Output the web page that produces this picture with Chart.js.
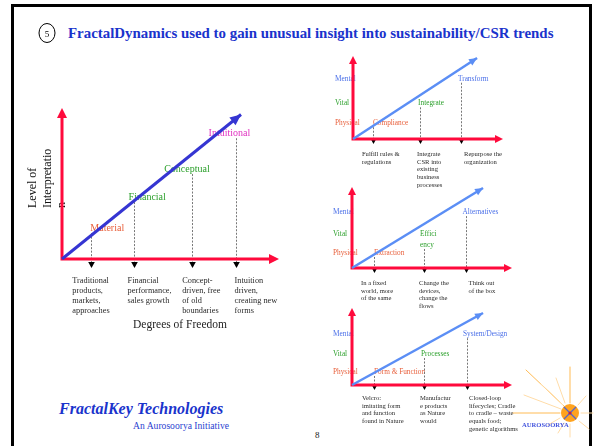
<!DOCTYPE html>
<html>
<head>
<meta charset="utf-8">
<script src="https://cdn.jsdelivr.net/npm/chart.js@4.4.0/dist/chart.umd.min.js"></script>
<style>
html,body{margin:0;padding:0;background:#fff;width:602px;height:446px;overflow:hidden;font-family:"Liberation Serif","Times New Roman",serif;}
#frame{position:absolute;left:11px;top:4px;width:581px;height:480px;border:3px solid #000;box-sizing:border-box;}
.box{position:absolute;}
.box canvas{display:block;}
#title{position:absolute;left:68px;top:24px;font-weight:bold;font-size:14.9px;color:#1a33cc;white-space:nowrap;line-height:18px;}
#brand{position:absolute;left:59px;top:399px;font-weight:bold;font-style:italic;font-size:16px;color:#1a33cc;white-space:nowrap;line-height:20px;}
#initiative{position:absolute;right:373px;top:420px;font-size:9.6px;color:#2a3fd0;white-space:nowrap;line-height:12px;}
#page{position:absolute;left:315px;top:430px;font-size:9px;color:#222;line-height:11px;}
#deco{position:absolute;left:0;top:0;pointer-events:none;}
</style>
</head>
<body>
<div id="frame"></div>
<div id="title">FractalDynamics used to gain unusual insight into sustainability/CSR trends</div>

<div class="box" style="left:14px;top:60px;"><canvas id="cMain" width="300" height="290"></canvas></div>
<div class="box" style="left:320px;top:45px;"><canvas id="cCsr" width="210" height="150"></canvas></div>
<div class="box" style="left:320px;top:180px;"><canvas id="cEco" width="210" height="135"></canvas></div>
<div class="box" style="left:320px;top:300px;"><canvas id="cBio" width="210" height="146"></canvas></div>

<div id="brand">FractalKey Technologies</div>
<div id="initiative">An Aurosoorya Initiative</div>
<div id="page">8</div>

<svg id="deco" width="602" height="446" xmlns="http://www.w3.org/2000/svg">
  <ellipse cx="47" cy="33" rx="8" ry="9.5" fill="none" stroke="#000" stroke-width="1"/>
  <text x="47" y="36.5" font-family="Liberation Serif" font-size="9" text-anchor="middle" fill="#000">5</text>
  <g stroke="#ffbb55" stroke-width="1" stroke-linecap="round">
    <line x1="526" y1="370" x2="564" y2="406"/>
    <line x1="570" y1="367" x2="570" y2="403"/>
    <line x1="513" y1="413" x2="560" y2="413"/>
  </g>
  <g stroke="#ffdca8" stroke-width="1" stroke-linecap="round">
    <line x1="524" y1="395" x2="561" y2="409"/>
    <line x1="541" y1="384" x2="563" y2="405"/>
    <line x1="556" y1="378" x2="565" y2="403"/>
    <line x1="586" y1="396" x2="578" y2="405"/>
    <line x1="593" y1="413" x2="581" y2="413"/>
    <line x1="589" y1="429" x2="579" y2="421"/>
    <line x1="570" y1="437" x2="570" y2="424"/>
    <line x1="558" y1="433" x2="564" y2="423"/>
    <line x1="548" y1="425" x2="560" y2="418"/>
  </g>
  <circle cx="570" cy="413" r="9" fill="#ffa31f"/>
  <g stroke="#5566cc" stroke-width="1.3">
    <line x1="564" y1="407" x2="576" y2="419"/>
    <line x1="576" y1="407" x2="564" y2="419"/>
  </g>
  <circle cx="570" cy="413" r="1.6" fill="#c0204a"/>
  <text x="522" y="426.5" font-family="Liberation Serif" font-size="6.6" font-weight="bold" fill="#4455dd">AUROSOORYA</text>
</svg>

<script>
// ---------------- DATA ----------------
// Main chart: Level of Interpretation vs Degrees of Freedom
const mainStages = ['Material', 'Financial', 'Conceptual', 'Intuitional'];
const mainFreedom = [1.35, 3.3, 6.0, 8.0];            // x (degrees of freedom)
const mainInterpretation = [1.43, 2.87, 4.17, 5.83];  // y (level of interpretation)
const mainDescriptions = [
  ['Traditional', 'products,', 'markets,', 'approaches'],
  ['Financial', 'performance,', 'sales growth'],
  ['Concept-', 'driven, free', 'of old', 'boundaries'],
  ['Intuition', 'driven,', 'creating new', 'forms']
];
const mainTrendX = [0, 8.25];
const mainTrendY = [0, 6.7];
const mainXTitle = 'Degrees of Freedom';
const mainYTitle = ['Level of', 'Interpretatio', 'n'];

// Shared levels for the three small charts
const levelNames = ['Physical', 'Vital', 'Mental'];

// Small chart 1: CSR
const csrStages = ['Compliance', 'Integrate', 'Transform'];
const csrFreedom = [1.33, 4.47, 7.2];
const csrLevels = [1.9, 4.3, 7.26];
const csrDescriptions = [
  ['Fulfill rules &', 'regulations'],
  ['Integrate', 'CSR into', 'existing', 'business', 'processes'],
  ['Repurpose the', 'organization']
];
const csrTrendX = [0, 8.27];
const csrTrendY = [0, 9.76];

// Small chart 2: resources
const ecoStages = ['Extraction', 'Effici\nency', 'Alternatives'];
const ecoFreedom = [1.375, 4.5, 7.1];
const ecoLevels = [1.85, 4.2, 6.9];
const ecoDescriptions = [
  ['In a fixed', 'world, more', 'of the same'],
  ['Change the', 'devices,', 'change the', 'flows'],
  ['Think out', 'of the box']
];
const ecoTrendX = [0, 8.19];
const ecoTrendY = [0, 9.88];

// Small chart 3: nature
const bioStages = ['Form & Function', 'Processes', 'System/Design'];
const bioFreedom = [1.375, 4.5, 7.19];
const bioLevels = [1.69, 4.03, 6.6];
const bioDescriptions = [
  ['Velcro:', 'imitating form', 'and function', 'found in Nature'],
  ['Manufactur', 'e products', 'as Nature', 'would'],
  ['Closed-loop', 'lifecycles; Cradle', 'to cradle \u2013 waste', 'equals food;', 'genetic algorithms']
];
const bioTrendX = [0, 8.19];
const bioTrendY = [0, 9.35];

// ---------------- STYLE ----------------
const FONT = '"Liberation Serif", "Times New Roman", serif';
const RED = '#ff0a3c';
const ORANGE = '#e8603c';
const GREEN = '#2ca02c';
const LBLUE = '#4a6fe8';
const MAGENTA = '#e030c0';

function tri(ctx, tipX, tipY, dx, dy, len, half, color) {
  const n = Math.hypot(dx, dy); const ux = dx / n, uy = dy / n;
  const bx = tipX - ux * len, by = tipY - uy * len;
  ctx.beginPath();
  ctx.moveTo(tipX, tipY);
  ctx.lineTo(bx - uy * half, by + ux * half);
  ctx.lineTo(bx + uy * half, by - ux * half);
  ctx.closePath();
  ctx.fillStyle = color; ctx.fill();
}

function makeDiagram(canvasId, spec) {
  const plugin = {
    id: 'diagram',
    beforeDatasetsDraw(chart) {
      const { ctx, scales: { x, y } } = chart;
      const ox = x.getPixelForValue(0), oy = y.getPixelForValue(0);
      const xt = x.getPixelForValue(x.max), yt = y.getPixelForValue(y.max);
      ctx.save();
      // level names (small charts)
      if (spec.levelNames) {
        ctx.font = spec.labelFont; ctx.textBaseline = 'middle'; ctx.textAlign = 'left';
        spec.levelNames.forEach((nm, i) => {
          ctx.fillStyle = spec.colors[i];
          ctx.fillText(nm, ox + spec.levelOffset, y.getPixelForValue(spec.levels[i]));
        });
      }
      // y title (main)
      if (spec.yTitle) {
        ctx.font = spec.yTitleFont; ctx.fillStyle = '#111';
        spec.yTitle.forEach((line, i) => {
          ctx.save();
          ctx.translate(ox + spec.yTitleX + i * spec.yTitleStep, oy + spec.yTitleStart);
          ctx.rotate(-Math.PI / 2);
          ctx.textAlign = 'left'; ctx.textBaseline = 'middle';
          ctx.fillText(line, 0, 0);
          ctx.restore();
        });
      }
      // stage labels
      ctx.font = spec.labelFont; ctx.textBaseline = 'middle'; ctx.textAlign = 'left';
      const dropTops = [];
      spec.stages.forEach((st, i) => {
        const px = x.getPixelForValue(spec.freedom[i]);
        const py = y.getPixelForValue(spec.levels[i]);
        const lines = st.split('\n');
        ctx.fillStyle = spec.colors[i];
        lines.forEach((ln, k) => ctx.fillText(ln, px + spec.labelOffsets[i], py + k * spec.labelLine));
        dropTops.push(py + (lines.length - 1) * spec.labelLine + spec.dropGap);
      });
      // drop lines
      ctx.strokeStyle = '#777'; ctx.lineWidth = 1; ctx.setLineDash([2, 1.5]);
      spec.freedom.forEach((f, i) => {
        const px = Math.round(x.getPixelForValue(f)) + 0.5;
        ctx.beginPath(); ctx.moveTo(px, dropTops[i]); ctx.lineTo(px, oy + spec.dropEnd - spec.dropHead); ctx.stroke();
      });
      ctx.setLineDash([]);
      spec.freedom.forEach((f, i) => {
        const px = Math.round(x.getPixelForValue(f)) + 0.5;
        tri(ctx, px, oy + spec.dropEnd, 0, 1, spec.dropHead, spec.dropHead * 0.55, '#000');
      });
      // axes
      ctx.strokeStyle = RED; ctx.lineWidth = spec.axisWidth; ctx.lineCap = 'butt';
      ctx.beginPath();
      ctx.moveTo(ox, yt + spec.axisHead - 1); ctx.lineTo(ox, oy);
      ctx.lineTo(xt - spec.axisHead + 1, oy);
      ctx.stroke();
      tri(ctx, ox, yt, 0, -1, spec.axisHead, spec.axisHead * 0.5, RED);
      tri(ctx, xt, oy, 1, 0, spec.axisHead, spec.axisHead * 0.5, RED);
      // descriptions
      ctx.font = spec.descFont; ctx.fillStyle = '#2a2a2a'; ctx.textAlign = 'left'; ctx.textBaseline = 'middle';
      spec.descriptions.forEach((lines, i) => {
        const px = x.getPixelForValue(spec.freedom[i]) + spec.descOffsets[i];
        lines.forEach((ln, k) => ctx.fillText(ln, px, oy + spec.descTop + k * spec.descLine));
      });
      // x title
      if (spec.xTitle) {
        ctx.font = spec.xTitleFont; ctx.fillStyle = '#222'; ctx.textAlign = 'center';
        ctx.fillText(spec.xTitle, ox + spec.xTitleX, oy + spec.xTitleY);
      }
      ctx.restore();
    },
    afterDatasetsDraw(chart) {
      const { ctx, scales: { x, y } } = chart;
      const n = spec.trendX.length;
      const x1 = x.getPixelForValue(spec.trendX[n - 1]), y1 = y.getPixelForValue(spec.trendY[n - 1]);
      const x0 = x.getPixelForValue(spec.trendX[n - 2]), y0 = y.getPixelForValue(spec.trendY[n - 2]);
      ctx.save();
      tri(ctx, x1, y1, x1 - x0, y1 - y0, spec.trendHead, spec.trendHead * 0.45, spec.trendColor);
      ctx.restore();
    }
  };
  const cv = document.getElementById(canvasId);
  return new Chart(cv, {
    type: 'scatter',
    data: {
      datasets: [{
        data: spec.trendX.map((v, i) => ({ x: v, y: spec.trendY[i] })),
        showLine: true,
        borderColor: spec.trendColor,
        borderWidth: spec.trendWidth,
        pointRadius: 0,
        clip: false
      }]
    },
    options: {
      responsive: false,
      animation: false,
      events: [],
      layout: { padding: spec.padding },
      plugins: { legend: { display: false }, tooltip: { enabled: false }, title: { display: false } },
      scales: {
        x: { type: 'linear', min: 0, max: spec.xMax, display: false },
        y: { type: 'linear', min: 0, max: spec.yMax, display: false }
      }
    },
    plugins: [plugin]
  });
}

// main chart: canvas at (14,60) 300x290 ; plot area 62..279 x 108..259
makeDiagram('cMain', {
  padding: { left: 48, right: 35, top: 48, bottom: 91 },
  xMax: 10, yMax: 7,
  stages: mainStages, freedom: mainFreedom, levels: mainInterpretation, descriptions: mainDescriptions,
  trendX: mainTrendX, trendY: mainTrendY, trendColor: '#3535d2', trendWidth: 3, trendHead: 11,
  colors: [ORANGE, GREEN, GREEN, MAGENTA],
  labelFont: '10px ' + FONT, labelLine: 11, labelOffsets: [-1, -5, -28, -27],
  dropGap: 5, dropEnd: 9, dropHead: 6,
  axisWidth: 3, axisHead: 10,
  descFont: '8.3px ' + FONT, descTop: 22, descLine: 10, descOffsets: [-19, -6, -10, -1],
  xTitle: mainXTitle, xTitleFont: '11.5px ' + FONT, xTitleX: 118, xTitleY: 66,
  yTitle: mainYTitle, yTitleFont: '12px ' + FONT, yTitleX: -29, yTitleStep: 14.5, yTitleStart: -51
});

const smallStyle = {
  xMax: 10, yMax: 10,
  trendColor: '#5b8ef5', trendWidth: 2.5, trendHead: 8,
  colors: [ORANGE, GREEN, LBLUE],
  labelFont: '7.3px ' + FONT, labelLine: 11,
  dropGap: 4, dropEnd: 5, dropHead: 4.5,
  axisWidth: 3, axisHead: 8,
  descFont: '6.6px ' + FONT, descLine: 7.8
};

// small chart 1: canvas at (320,45) 210x150 ; plot area 353..503 x 56..139
makeDiagram('cCsr', Object.assign({}, smallStyle, {
  padding: { left: 33, right: 27, top: 11, bottom: 56 },
  levelNames: levelNames, levelOffset: -18,
  stages: csrStages, freedom: csrFreedom, levels: csrLevels, descriptions: csrDescriptions,
  trendX: csrTrendX, trendY: csrTrendY,
  labelOffsets: [0, -2, -3], descTop: 15, descOffsets: [-11, -3, 3]
}));

// small chart 2: canvas at (320,180) 210x135 ; plot area 352..512 x 187..268
makeDiagram('cEco', Object.assign({}, smallStyle, {
  padding: { left: 32, right: 18, top: 7, bottom: 47 },
  levelNames: levelNames, levelOffset: -19,
  stages: ecoStages, freedom: ecoFreedom, levels: ecoLevels, descriptions: ecoDescriptions,
  trendX: ecoTrendX, trendY: ecoTrendY,
  labelOffsets: [0, -4, -3], descTop: 15, descOffsets: [-13, -5, 3]
}));

// small chart 3: canvas at (320,300) 210x146 ; plot area 352..512 x 308..385
makeDiagram('cBio', Object.assign({}, smallStyle, {
  padding: { left: 32, right: 18, top: 8, bottom: 61 },
  levelNames: levelNames, levelOffset: -19,
  stages: bioStages, freedom: bioFreedom, levels: bioLevels, descriptions: bioDescriptions,
  trendX: bioTrendX, trendY: bioTrendY,
  labelOffsets: [0, -3, -4], descTop: 13, descOffsets: [-12, -4, 2]
}));
</script>
</body>
